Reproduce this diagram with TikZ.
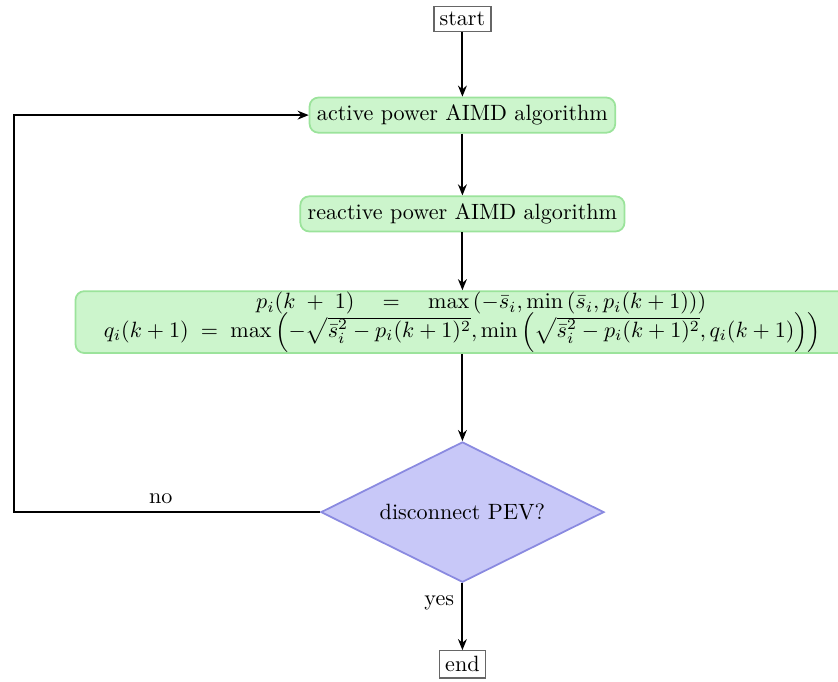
\documentclass[tikz,border=0pt]{standalone}
\usepackage{tikz}
\usetikzlibrary{shapes.geometric, arrows.meta, positioning, calc}
\usepackage{amsmath,amssymb}
\definecolor{stepFill}{HTML}{CCF5CC}
\definecolor{stepEdge}{HTML}{9BE39B}
\definecolor{askFill}{HTML}{C8C8F8}
\definecolor{askEdge}{HTML}{8A8AE0}
\tikzset{
  term/.style={draw=black!60, line width=0.6pt, fill=white, inner sep=2.6pt},
  algo/.style={draw=stepEdge, line width=0.8pt, rounded corners=4pt, fill=stepFill},
  ask/.style={diamond, shape aspect=2, draw=askEdge, line width=0.8pt, fill=askFill,
              minimum width=4.5cm, minimum height=2.23cm, inner sep=1pt},
  arrow/.style={-{Stealth[length=5pt,width=4pt]}, line width=0.9pt},
}
\begin{document}
\begin{tikzpicture}
\useasboundingbox (0,0) rectangle (13.32,10.83);
% main chain
\node[term] (start) at (7.35,10.53) {start};
\node[algo] (active) at (7.35,9.00) {active power AIMD algorithm};
\node[algo] (reactive) at (7.35,7.43) {reactive power AIMD algorithm};
\node[algo, align=center, minimum width=12.3cm, inner ysep=0.5pt] (clamp) at (7.35,5.71)
  {\hspace*{17pt}$p_i(k\;+\;1)\quad=\quad\max\left(-\bar{s}_i,\min\left(\bar{s}_i,p_i(k+1)\right)\right)$\\[-2pt]
   $q_i(k+1)\;=\;\max\left(-\sqrt{\bar{s}_i^2-p_i(k+1)^2},\min\left(\sqrt{\bar{s}_i^2-p_i(k+1)^2},q_i(k+1)\right)\right)$};
\node[ask] (pev) at (7.35,2.69) {disconnect PEV?};
\node[term] (end) at (7.35,0.27) {end};
% connectors
\draw[arrow] (start) -- (active);
\draw[arrow] (active) -- (reactive);
\draw[arrow] (reactive) -- (clamp);
\draw[arrow] (clamp) -- (pev);
\draw[arrow] (pev) -- node[left, pos=0.3] {yes} (end);
% loop back
\coordinate (back) at (0.22,2.69);
\draw[arrow] (pev.west) -- node[above, pos=0.52] {no} (back) |- (active.west);
\end{tikzpicture}
\end{document}
